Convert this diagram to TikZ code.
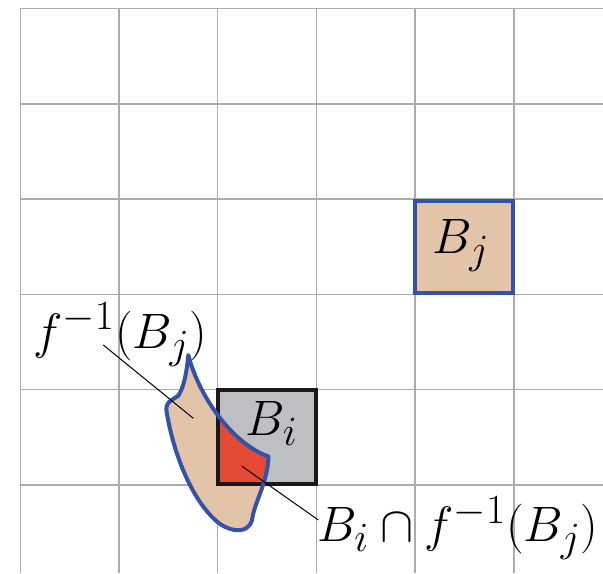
\documentclass[tikz,border=0pt]{standalone}
\usepackage{amsmath,amssymb}
\usepackage{tikz}
\usetikzlibrary{positioning,calc}
\usepackage{xcolor}

\definecolor{sandfill}{RGB}{227,196,168}
\definecolor{boxgray}{RGB}{190,191,195}
\definecolor{cutred}{RGB}{228,74,52}
\definecolor{rimblue}{RGB}{51,82,168}

% outline of the preimage f^{-1}(B_j), in pixel units
\newcommand{\preimagecurve}{(188.3,355) .. controls (200,400) and (235,445) .. (268.5,456.5)
    .. controls (267,485) and (255,500) .. (252,520)
    .. controls (248,534) and (232,532) .. (220,524)
    .. controls (195,505) and (175,460) .. (167,414)
    .. controls (164,402) and (172,400) .. (178,396)
    .. controls (184,388) and (187,370) .. cycle}

\begin{document}
\begin{tikzpicture}[
    x=0.5pt, y=-0.5pt,
    gridline/.style={draw=gray!65, line width=0.75pt},
    cell/.style={rectangle, inner sep=0pt, outer sep=0pt},
    bjbox/.style={cell, draw=rimblue, fill=sandfill, line width=1.9pt, minimum width=49.15pt, minimum height=46pt},
    bibox/.style={cell, fill=boxgray, minimum width=48.85pt, minimum height=47pt},
    biborder/.style={draw=black!90, line width=2pt},
    rim/.style={draw=rimblue, line width=2pt, line join=round},
    mathlabel/.style={font=\Huge, inner sep=0pt},
    leader/.style={draw=black, line width=0.5pt}
]
\useasboundingbox (0,0) rectangle (603,573);

% grid
\foreach \c in {0,...,5}
    \draw[gridline] ({20.3+98.7*\c},8.5) -- ({20.3+98.7*\c},573);
\foreach \r in {0,...,5}
    \draw[gridline] (20.3,{8.5+95.3*\r}) -- (603,{8.5+95.3*\r});

% the two boxes and the preimage
\node[bjbox] (Bj) at (464.2,247.3) {};
\fill[sandfill] \preimagecurve;
\node[bibox] (Bi) at (266.9,437.3) {};
\begin{scope}
    \clip (Bi.south west) rectangle (Bi.north east);
    \fill[cutred] \preimagecurve;
\end{scope}
\draw[biborder] (Bi.south west) rectangle (Bi.north east);
\draw[rim] \preimagecurve;

% labels
\node[mathlabel, anchor=base west] (bjlab) at (432,253) {$B_j$};
\node[mathlabel, anchor=base west] (bilab) at (245.5,435) {$B_i$};
\node[mathlabel, anchor=base west] (prelab) at (33,348) {$f^{-1}(B_j)$};
\node[mathlabel, anchor=base west] (caplab) at (317,541.7) {$B_i\cap f^{-1}(B_j)$};

% leader lines
\coordinate (pretail) at (103.3,345);
\coordinate (prehead) at (193.3,418.3);
\coordinate (captail) at (241.7,466);
\coordinate (caphead) at (318.3,520);
\draw[leader] (pretail) -- (prehead);
\draw[leader] (captail) -- (caphead);
\end{tikzpicture}
\end{document}
